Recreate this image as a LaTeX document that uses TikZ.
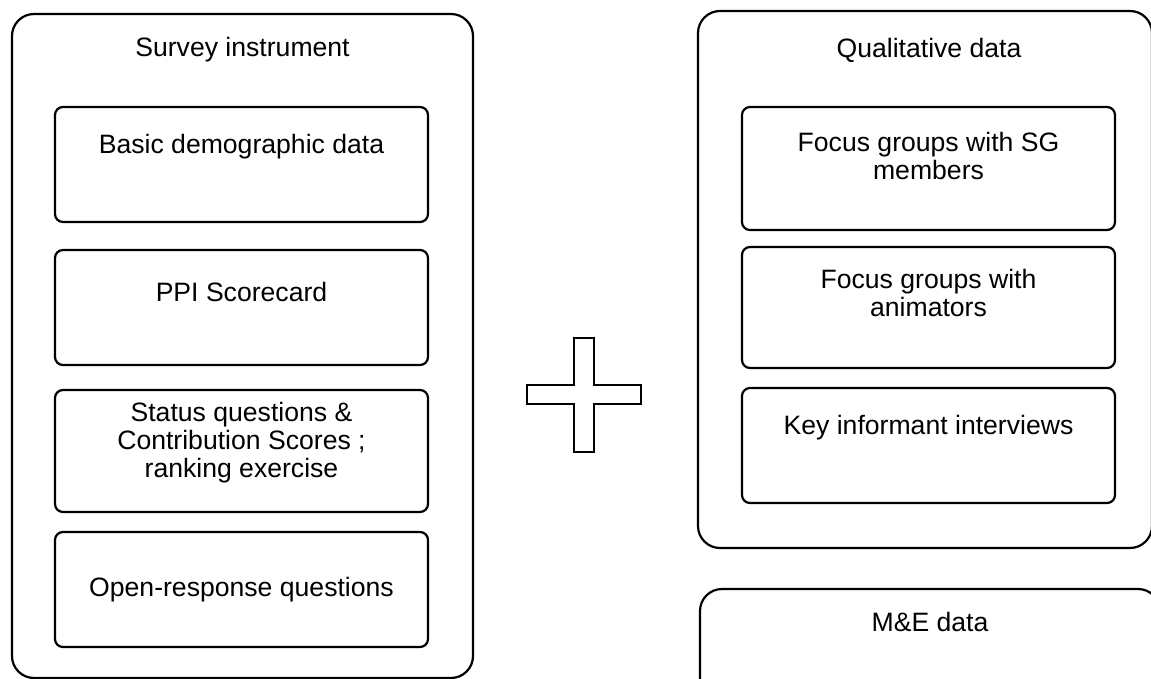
\documentclass[tikz,border=0pt]{standalone}
\usepackage{fontspec}
\setmainfont{Liberation Sans}
\usetikzlibrary{positioning}

\begin{document}
\begin{tikzpicture}[
    x = 1pt, y = -1pt,
    group/.style = {draw, line width=2.2pt, rounded corners=22pt, inner sep=0pt},
    box/.style = {draw, line width=2.2pt, rounded corners=8pt, minimum width=373pt, inner sep=0pt},
    txt/.style = {align=center, inner sep=0pt, font=\fontsize{26.6}{28}\selectfont}
]
\useasboundingbox (0,0) rectangle (1151,679);
\clip (0,0) rectangle (1151,679);

% survey side
\node (survey) [group, minimum width=461pt, minimum height=664pt] at (242.5,346) {};
\node (surveytxt) [txt] at (242.5,50) {Survey instrument};

\node (demo) [box, minimum height=115pt] at (241.5,164.5) {};
\node (demotxt) [txt] at (241.5,147) {Basic demographic data};
\node (ppi) [box, minimum height=115pt] at (241.5,307.5) {};
\node (ppitxt) [txt] at (241.5,292) {PPI Scorecard};
\node (status) [box, minimum height=122pt] at (241.5,451) {};
\node (statustxt) [txt] at (241.5,443) {Status questions \&\\ Contribution Scores ;\\ ranking exercise};
\node (open) [box, minimum height=115pt] at (241.5,589.5) {};
\node (opentxt) [txt] at (241.5,590) {Open-response questions};

% plus sign
\draw[line width=2pt] (574,338) -- (594,338) -- (594,385) -- (641,385) -- (641,404) -- (594,404)
    -- (594,452) -- (574,452) -- (574,404) -- (527,404) -- (527,385) -- (574,385) -- cycle;

% qualitative side
\node (qual) [group, minimum width=454pt, minimum height=537pt] at (925,279.5) {};
\node (qualtxt) [txt] at (929,50) {Qualitative data};

\node (fgsg) [box, minimum height=123pt] at (928.5,168.5) {};
\node (fgsgtxt) [txt] at (928.5,156) {Focus groups with SG\\ members};
\node (fganim) [box, minimum height=121pt] at (928.5,307.5) {};
\node (fganimtxt) [txt] at (928.5,292.5) {Focus groups with\\ animators};
\node (kii) [box, minimum height=115pt] at (928.5,445.5) {};
\node (kiitxt) [txt] at (928.5,428) {Key informant interviews};

\node (me) [group, minimum width=460pt, minimum height=111pt] at (930,644.5) {};
\node (metxt) [txt] at (930,622) {M\&E data};
\end{tikzpicture}
\end{document}
